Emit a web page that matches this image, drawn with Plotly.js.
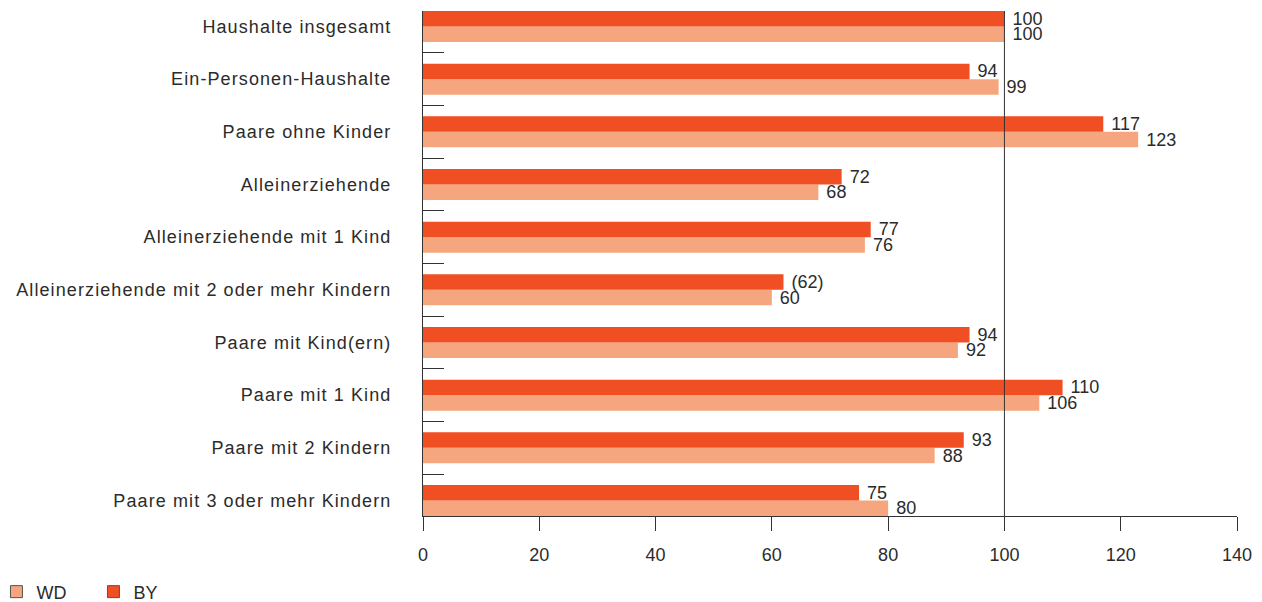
<!DOCTYPE html>
<html>
<head>
<meta charset="utf-8">
<script src="https://cdn.plot.ly/plotly-3.0.1.min.js"></script>
<style>
html,body{margin:0;padding:0;background:#fff;}
#chart{width:1262px;height:602px;}
#chart .ytick text{letter-spacing:1.1px;}
</style>
</head>
<body>
<div id="chart"></div>
<script>
const categories = [
  "Haushalte insgesamt",
  "Ein-Personen-Haushalte",
  "Paare ohne Kinder",
  "Alleinerziehende",
  "Alleinerziehende mit 1 Kind",
  "Alleinerziehende mit 2 oder mehr Kindern",
  "Paare mit Kind(ern)",
  "Paare mit 1 Kind",
  "Paare mit 2 Kindern",
  "Paare mit 3 oder mehr Kindern"
];
const wdValues = [100, 99, 123, 68, 76, 60, 92, 106, 88, 80];
const byValues = [100, 94, 117, 72, 77, 62, 94, 110, 93, 75];
const wdLabels = ["100", "99", "123", "68", "76", "60", "92", "106", "88", "80"];
const byLabels = ["100", "94", "117", "72", "77", "(62)", "94", "110", "93", "75"];
const xTickValues = [0, 20, 40, 60, 80, 100, 120, 140];
const referenceValue = 100;

const n = categories.length;
const yPos = categories.map((c, i) => n - 1 - i);
const boundaries = categories.slice(1).map((c, i) => n - 1 - i - 0.5);

const WD_COLOR = "#F6A67E";
const BY_COLOR = "#F04E23";
const FONT = "Liberation Sans, Arial, sans-serif";
const TXT = "#2b2b2b";

const traces = [
  {
    type: "bar", orientation: "h", name: "WD", x: wdValues, y: yPos,
    offsetgroup: "wd", marker: {color: WD_COLOR, line: {width: 0}},
    text: wdLabels, texttemplate: " %{text}", textposition: "outside", constraintext: "none",
    cliponaxis: false, textfont: {size: 18, color: TXT, family: FONT},
    showlegend: false, hoverinfo: "x+y"
  },
  {
    type: "bar", orientation: "h", name: "BY", x: byValues, y: yPos,
    offsetgroup: "by", marker: {color: BY_COLOR, line: {width: 0}},
    text: byLabels, texttemplate: " %{text}", textposition: "outside", constraintext: "none",
    cliponaxis: false, textfont: {size: 18, color: TXT, family: FONT},
    showlegend: false, hoverinfo: "x+y"
  },
  {
    type: "bar", orientation: "h", name: "WD", x: [null], y: [null],
    offsetgroup: "wd", marker: {color: WD_COLOR, line: {width: 1, color: "#555"}},
    showlegend: true, hoverinfo: "skip"
  },
  {
    type: "bar", orientation: "h", name: "BY", x: [null], y: [null],
    offsetgroup: "by", marker: {color: BY_COLOR, line: {width: 1, color: "#555"}},
    showlegend: true, hoverinfo: "skip"
  }
];

const layout = {
  width: 1262, height: 602,
  margin: {l: 423, r: 25, t: 11, b: 86, pad: 0, autoexpand: false},
  paper_bgcolor: "#fff", plot_bgcolor: "#fff",
  font: {family: FONT, size: 18, color: TXT},
  barmode: "group", bargap: 0.412, bargroupgap: 0,
  xaxis: {
    range: [0, 140], tickvals: xTickValues, ticktext: xTickValues.map(String),
    showgrid: false, zeroline: false, showline: true, linecolor: "#333", linewidth: 1,
    ticks: "outside", ticklen: 14, tickcolor: "#333", tickwidth: 1,
    ticklabelstandoff: 8, tickfont: {size: 18, family: FONT, color: TXT}
  },
  yaxis: {
    range: [-0.294, n - 1 + 0.294], tickvals: yPos, ticktext: categories,
    showgrid: false, zeroline: false, showline: true, linecolor: "#333", linewidth: 1,
    ticks: "", ticklabelstandoff: 27, tickfont: {size: 18, family: FONT, color: TXT},
    minor: {tickvals: boundaries, tickmode: "array", ticks: "inside", ticklen: 21, tickcolor: "#333", tickwidth: 1, showgrid: false}
  },
  shapes: [{
    type: "line", xref: "x", yref: "paper", x0: referenceValue, x1: referenceValue, y0: 0, y1: 1,
    line: {color: "#333", width: 1}, layer: "above"
  }],
  showlegend: true,
  legend: {
    orientation: "h", xref: "paper", yref: "paper", x: -0.524, y: -0.187,
    xanchor: "left", yanchor: "bottom", traceorder: "normal",
    font: {size: 18, family: FONT, color: TXT},
    entrywidth: 52, entrywidthmode: "pixels", itemwidth: 30, bgcolor: "rgba(0,0,0,0)"
  }
};

Plotly.newPlot("chart", traces, layout, {displayModeBar: false, staticPlot: true});
</script>
</body>
</html>
